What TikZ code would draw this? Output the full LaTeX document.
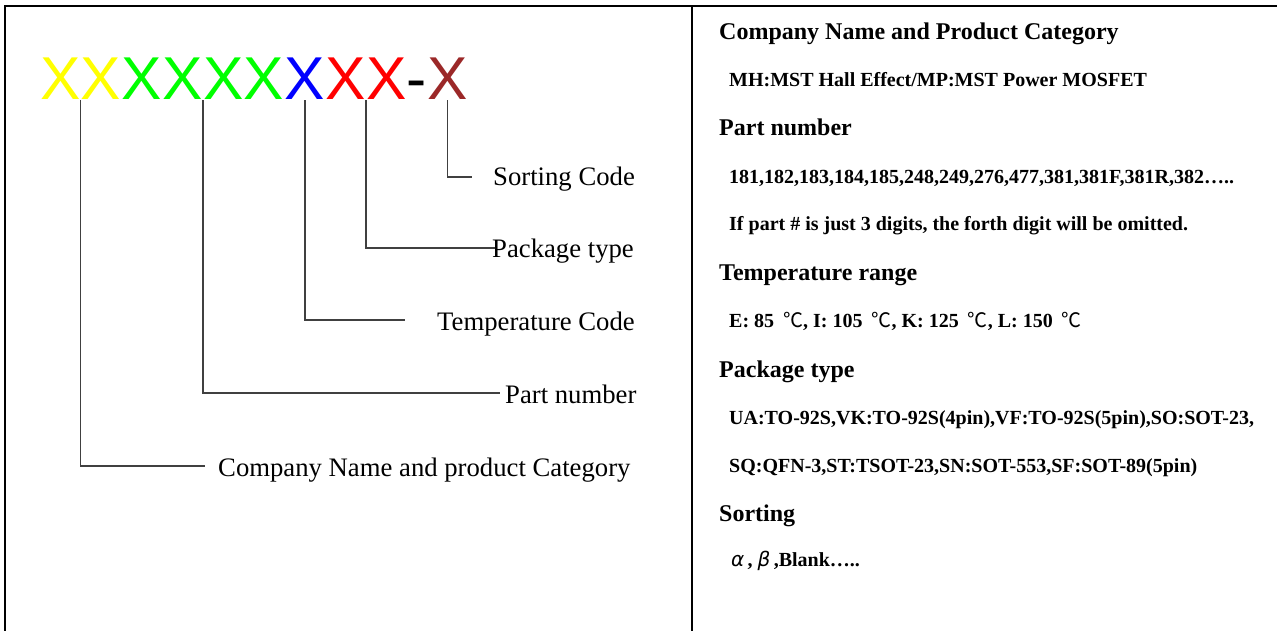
\documentclass[tikz,border=0pt]{standalone}
\usepackage{fontspec}
\setmainfont{Liberation Serif}
\newfontfamily\arialf{Liberation Sans}
\newfontfamily\cjkf{Noto Sans CJK SC}
\newfontfamily\dejavuf{DejaVu Sans}
\definecolor{xyellow}{RGB}{255,255,0}
\definecolor{xgreen}{RGB}{0,255,0}
\definecolor{xblue}{RGB}{0,0,255}
\definecolor{xred}{RGB}{255,0,0}
\definecolor{xbrown}{RGB}{155,40,40}
\definecolor{conngray}{RGB}{64,64,64}
\newcommand{\degc}{\hspace{9pt}{\cjkf\mdseries ℃}}
\begin{document}
\begin{tikzpicture}[x=1pt,y=-1pt,
  bigx/.style={anchor=base west, inner sep=0pt, font=\arialf\fontsize{60.5}{70}\selectfont},
  lab/.style={anchor=base west, inner sep=0pt, font=\fontsize{26.7}{30}\selectfont},
  conn/.style={draw=conngray, line width=1.3pt},
  head/.style={anchor=base west, inner sep=0pt, font=\bfseries\fontsize{24}{28}\selectfont},
  body/.style={anchor=base west, inner sep=0pt, font=\bfseries\fontsize{20}{24}\selectfont},
  frame/.style={line width=2.3pt}]
\useasboundingbox (0,0) rectangle (1277,631);
% frame
\draw[frame] (5,632) -- (5,6) -- (1278,6);
\draw[frame] (692,6) -- (692,632);
% code letters
\node[bigx, text=xyellow] (x1) at (40,100) {X};
\node[bigx, text=xyellow] (x2) at (x1.base east) {X};
\node[bigx, text=xgreen] (x3) at (x2.base east) {X};
\node[bigx, text=xgreen] (x4) at (x3.base east) {X};
\node[bigx, text=xgreen] (x5) at (x4.base east) {X};
\node[bigx, text=xgreen] (x6) at (x5.base east) {X};
\node[bigx, text=xblue] (x7) at (x6.base east) {X};
\node[bigx, text=xred] (x8) at (x7.base east) {X};
\node[bigx, text=xred] (x9) at (x8.base east) {X};
\node[bigx, text=black] (dash) at (x9.base east) {-};
\node[bigx, text=xbrown] (x10) at (dash.base east) {X};
% labels
\node[lab] (l1) at (218,476) {Company Name and product Category};
\node[lab] (l2) at (505,403) {Part number};
\node[lab] (l3) at (437,330) {Temperature Code};
\node[lab] (l4) at (492,258) {Package type};
\node[lab] (l5) at (493,186) {Sorting Code};
% connector ends
\coordinate (e1) at (205,466);
\coordinate (e2) at (500,393);
\coordinate (e3) at (405,320);
\coordinate (e4) at (495,248);
\coordinate (e5) at (472,177);
\draw[conn] (x1.south east) |- (e1);
\draw[conn] (x4.south east) |- (e2);
\draw[conn] (x7.south) |- (e3);
\draw[conn] (x8.south east) |- (e4);
\draw[conn] (x10.south) |- (e5);
% right column
\node[head] (h1) at (719,40) {Company Name and Product Category};
\node[body] (t1) at (729,87) {MH:MST Hall Effect/MP:MST Power MOSFET};
\node[head] (h2) at (719,136) {Part number};
\node[body] (t2) at (729,184) {181,182,183,184,185,248,249,276,477,381,381F,381R,382…..};
\node[body] (t3) at (729,231) {If part \# is just 3 digits, the forth digit will be omitted.};
\node[head] (h3) at (719,280) {Temperature range};
\node[body] (t4) at (729,327) {E: 85\degc, I: 105\degc, K: 125\degc, L: 150\degc};
\node[head] (h4) at (719,377) {Package type};
\node[body] (t5) at (729,424) {UA:TO-92S,VK:TO-92S(4pin),VF:TO-92S(5pin),SO:SOT-23,};
\node[body] (t6) at (729,472) {SQ:QFN-3,ST:TSOT-23,SN:SOT-553,SF:SOT-89(5pin)};
\node[head] (h5) at (719,521) {Sorting};
\node[body] (t7) at (731,566) {{\dejavuf\mdseries\itshape α}\,, {\dejavuf\mdseries\itshape β}\,,Blank…..};
\end{tikzpicture}
\end{document}
